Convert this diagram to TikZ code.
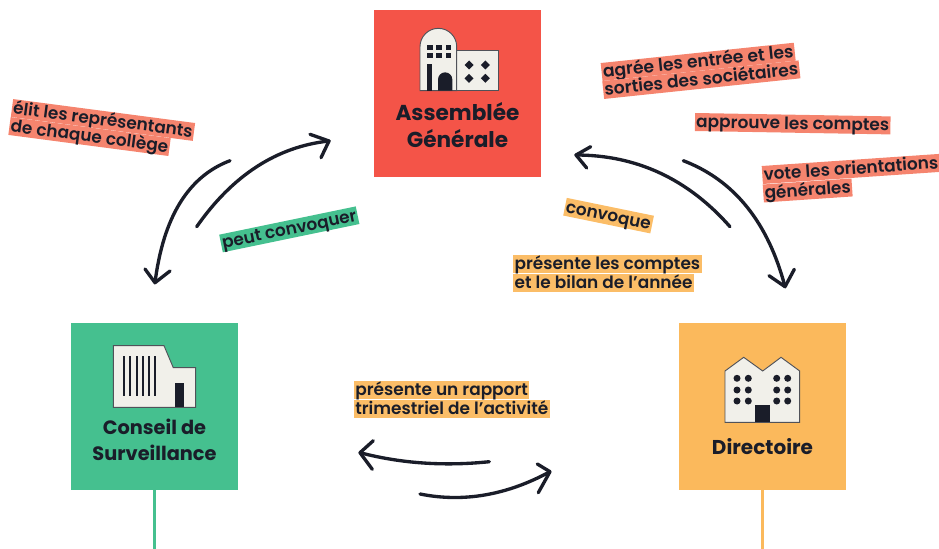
\documentclass[tikz,border=0pt]{standalone}
\usepackage{fontspec}
\setmainfont{Poppins}[BoldFont={Poppins SemiBold}]
\newfontfamily\heavyfont{Poppins}
\definecolor{redbox}{HTML}{F45448}
\definecolor{greenbox}{HTML}{45C08F}
\definecolor{orangebox}{HTML}{FBB95C}
\definecolor{salmonlab}{HTML}{F5846E}
\definecolor{orangelab}{HTML}{FBBD67}
\definecolor{cream}{HTML}{F1F0EA}
\definecolor{ink}{HTML}{1A1D29}
\tikzset{
  square/.style={minimum size=125.25pt,inner sep=0pt,outer sep=0pt,draw=none},
  title/.style={align=center,text=ink,inner sep=0pt},
  lab/.style={anchor=west,font=\fontsize{12.7}{14}\selectfont\bfseries,text=ink,inner xsep=1pt,inner ysep=0pt,text height=10.9pt,text depth=2.6pt,outer sep=0pt},
  sal/.style={lab,fill=salmonlab},
  ora/.style={lab,fill=orangelab},
  gre/.style={lab,fill=greenbox},
  curve/.style={draw=ink,line width=2.5pt,line cap=round,line join=round},
  bld/.style={fill=cream,draw=ink!75!cream,line width=.7pt},
  stem/.style={line width=1.6pt},
}
\begin{document}
\begin{tikzpicture}[x=0.75pt,y=-0.75pt]
\useasboundingbox (0,0) rectangle (939,549);
% boxes
\node[square,fill=redbox] (ag) at (457.5,93.5) {};
\node[square,fill=greenbox] (cs) at (154.5,406.5) {};
\node[square,fill=orangebox] (di) at (762.5,406.5) {};
\coordinate (csend) at (154.5,549);
\coordinate (diend) at (762.5,549);
\draw[stem,draw=greenbox] (cs.south) -- (csend);
\draw[stem,draw=orangebox] (di.south) -- (diend);
% Assemblee icon
\draw[bld] (456.7,50.7) rectangle (498.3,90.7);
\draw[bld] (420,90.7) -- (420,46.7) arc[start angle=180,end angle=360,radius=18.35] -- (456.7,90.7) -- cycle;
\foreach \x in {427.3,436.3,446}{\foreach \y in {45,53.3}{\fill[ink] (\x,\y) rectangle ++(5.2,4.8);}}
\fill[ink] (427.3,64.3) rectangle (432.3,90.7);
\fill[ink] (438,90.7) -- (438,79.5) arc[start angle=180,end angle=360,radius=7.15] -- (452.3,90.7) -- cycle;
\foreach \x/\y in {469/65,485.3/65,469/78.3,485.3/78.3}{\fill[ink] (\x-4.5,\y) -- (\x,\y-4.5) -- (\x+4.5,\y) -- (\x,\y+4.5) -- cycle;}
% Conseil icon
\draw[bld] (113.3,345.7) -- (164,345.7) -- (173.3,367.7) -- (195.7,367.7) -- (195.7,407.3) -- (113.3,407.3) -- cycle;
\foreach \x in {124,130.3,137,143.3,149.3,155.3}{\fill[ink] (\x-1,356) rectangle (\x+1,396);}
\fill[ink] (175,383) rectangle (184,407.3);
% Directoire icon
\draw[bld] (725,371) -- (743.7,357.3) -- (762.7,371) -- (781,357.3) -- (799.7,371) -- (799.7,422.3) -- (725,422.3) -- cycle;
\foreach \x in {737,748.3,776.7,787.7}{\foreach \y in {378.3,390,401}{\fill[ink] (\x,\y) circle[radius=3.5];}}
\fill[ink] (755,405) rectangle (770,422.3);
% titles
\node[title,font=\fontsize{16.2}{20.5}\selectfont\heavyfont\bfseries] (agt) at (457.5,125) {Assemblée\\Générale};
\node[title,font=\fontsize{14.5}{19.5}\selectfont\heavyfont\bfseries] (cst) at (154.5,440) {Conseil de\\Surveillance};
\node[title,font=\fontsize{15}{20}\selectfont\heavyfont\bfseries] (dit) at (762.5,447) {Directoire};
% labels
\node[sal,rotate=-7.5] (l1a) at (12,108) {élit les représentants};
\node[sal,rotate=-7.5] (l1b) at (9.5,126) {de chaque collège};
\node[gre,rotate=11.7] (l2) at (221,243.5) {peut convoquer};
\node[sal,rotate=6,font=\fontsize{12.9}{14}\selectfont\bfseries] (l3a) at (601.6,72) {agrée les entrée et les};
\node[sal,rotate=6,font=\fontsize{12.9}{14}\selectfont\bfseries] (l3b) at (603.2,90) {sorties des sociétaires};
\node[sal,rotate=-1] (l4) at (695,122) {approuve les comptes};
\node[sal,rotate=3.9] (l5a) at (762.3,175) {vote les orientations};
\node[sal,rotate=3.9] (l5b) at (763.3,193.5) {générales};
\node[ora,rotate=-11.6] (l6) at (565,206.7) {convoque};
\node[ora] (l7a) at (513.3,263.5) {présente les comptes};
\node[ora] (l7b) at (513.3,282.5) {et le bilan de l’année};
\node[ora] (l8a) at (354,389.5) {présente un rapport};
\node[ora] (l8b) at (354,408.5) {trimestriel de l’activité};
% connectors
\coordinate (as) at (196.7,226.7); \coordinate (ae) at (329,141);
\coordinate (bs) at (230,160.7); \coordinate (be) at (155,282.7);
\coordinate (cs1) at (730,226.7); \coordinate (ce) at (576,155);
\coordinate (ds) at (683.3,160.7); \coordinate (de) at (785,286.7);
\coordinate (es) at (489.3,461.7); \coordinate (ee) at (360,452.7);
\coordinate (fs) at (420,494); \coordinate (fe) at (550,471.7);
\draw[curve] (as) .. controls (232.6,175.3) and (276.7,146.7) .. (ae);
\draw[curve] (310,134.3) -- (ae) -- (321,157.7);
\draw[curve] (bs) .. controls (188.3,176.4) and (163.3,217.1) .. (be);
\draw[curve] (145,269) -- (be) -- (170,271);
\draw[curve] (cs1) .. controls (688,179) and (636.7,155.1) .. (ce);
\draw[curve] (590.7,146.7) -- (ce) -- (586.7,168);
\draw[curve] (ds) .. controls (733.9,180) and (768,222) .. (de);
\draw[curve] (769,275.7) -- (de) -- (794.3,269.3);
\draw[curve] (es) .. controls (444,466.4) and (400.9,463.4) .. (ee);
\draw[curve] (373.3,440.7) -- (ee) -- (372.3,469.3);
\draw[curve] (fs) .. controls (463.3,502.7) and (506.7,495.2) .. (fe);
\draw[curve] (537.3,464) -- (fe) -- (538.3,492.7);
\end{tikzpicture}
\end{document}
